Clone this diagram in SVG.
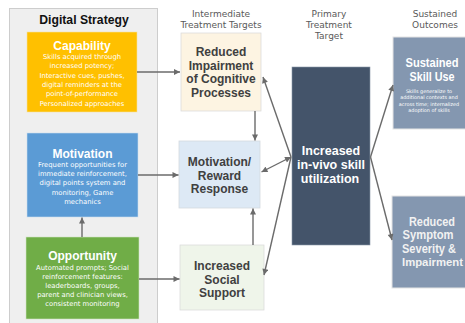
<svg xmlns="http://www.w3.org/2000/svg" width="465" height="323" viewBox="0 0 465 323">
  <style>
    .hdr { font-family: "DejaVu Sans", Verdana, sans-serif; font-size: 9px; fill: #595959; text-anchor: middle; }
    .ttl { font-family: "Liberation Sans", Arial, sans-serif; font-weight: bold; text-anchor: middle; }
    .body { font-family: "DejaVu Sans", Verdana, sans-serif; font-size: 6.8px; fill: #ffffff; text-anchor: middle; }
    .mid { font-family: "Liberation Sans", Arial, sans-serif; font-weight: bold; font-size: 12px; fill: #404040; text-anchor: middle; }
    .wt { fill: #ffffff; }
    .small { font-family: "DejaVu Sans", Verdana, sans-serif; font-size: 4.9px; fill: #ffffff; text-anchor: middle; }
    .conn { stroke: #6b6b6b; stroke-width: 1.4; fill: none; }
  </style>
  <defs>
    <marker id="arrow" viewBox="0 0 10 10" refX="10" refY="5" markerUnits="userSpaceOnUse" markerWidth="7" markerHeight="6" orient="auto-start-reverse">
      <path d="M0,0 L10,5 L0,10 z" fill="#6b6b6b"/>
    </marker>
  </defs>

  <!-- strategy panel -->
  <g id="digital-strategy">
    <rect x="9.5" y="8.5" width="148" height="322" fill="#efefef" stroke="#cdcdcd" stroke-width="1"/>
    <text class="ttl" x="84" y="24" font-size="12.2" fill="#111111">Digital Strategy</text>
  </g>

  <!-- column headers -->
  <g id="headers">
    <text class="hdr" x="221" y="17">Intermediate</text>
    <text class="hdr" x="221" y="28">Treatment Targets</text>
    <text class="hdr" x="329" y="17">Primary</text>
    <text class="hdr" x="329" y="28">Treatment</text>
    <text class="hdr" x="329" y="39">Target</text>
    <text class="hdr" x="435" y="17">Sustained</text>
    <text class="hdr" x="435" y="28">Outcomes</text>
  </g>

  <g id="capability">
    <rect x="27" y="32" width="110" height="80" fill="#ffc000" stroke="#f3e0a0" stroke-width="0.6"/>
    <text class="ttl wt" x="82" y="50" font-size="12">Capability</text>
    <text class="body" x="82" y="59">Skills acquired through</text>
    <text class="body" x="82" y="68">increased potency;</text>
    <text class="body" x="82" y="77.5">Interactive cues, pushes,</text>
    <text class="body" x="82" y="87">digital reminders at the</text>
    <text class="body" x="82" y="96">point-of-performance</text>
    <text class="body" x="82" y="105.5">Personalized approaches</text>
  </g>

  <g id="motivation">
    <rect x="27" y="133" width="111" height="84" fill="#5b9bd5" stroke="#c9dcef" stroke-width="0.6"/>
    <text class="ttl wt" x="82.5" y="157.5" font-size="12">Motivation</text>
    <text class="body" x="82.5" y="167">Frequent opportunities for</text>
    <text class="body" x="82.5" y="176">immediate reinforcement,</text>
    <text class="body" x="82.5" y="185">digital points system and</text>
    <text class="body" x="82.5" y="194.5">monitoring, Game</text>
    <text class="body" x="82.5" y="203.5">mechanics</text>
  </g>

  <g id="opportunity">
    <rect x="26" y="237" width="113" height="82" fill="#70ad47" stroke="#cfe3c2" stroke-width="0.6"/>
    <text class="ttl wt" x="82.5" y="259.5" font-size="12">Opportunity</text>
    <text class="body" x="82.5" y="270">Automated prompts; Social</text>
    <text class="body" x="82.5" y="279">reinforcement features:</text>
    <text class="body" x="82.5" y="288">leaderboards, groups,</text>
    <text class="body" x="82.5" y="297">parent and clinician views,</text>
    <text class="body" x="82.5" y="306">consistent monitoring</text>
  </g>

  <g id="reduced-impairment">
    <rect x="181" y="33" width="80" height="78" fill="#fdf4e2" stroke="#dcdcdc" stroke-width="0.8"/>
    <text class="mid" x="221" y="56">Reduced</text>
    <text class="mid" x="221" y="69.5">Impairment</text>
    <text class="mid" x="221" y="83">of Cognitive</text>
    <text class="mid" x="221" y="96.5">Processes</text>
  </g>

  <g id="motivation-reward">
    <rect x="179" y="141" width="81" height="67" fill="#dde9f5" stroke="#d4d9df" stroke-width="0.8"/>
    <text class="mid" x="219.5" y="166">Motivation/</text>
    <text class="mid" x="219.5" y="179.5">Reward</text>
    <text class="mid" x="219.5" y="193">Response</text>
  </g>

  <g id="social-support">
    <rect x="180" y="245" width="84" height="65" fill="#eff5ea" stroke="#dcdcdc" stroke-width="0.8"/>
    <text class="mid" x="222" y="269.5">Increased</text>
    <text class="mid" x="222" y="283.5">Social</text>
    <text class="mid" x="222" y="297">Support</text>
  </g>

  <g id="skill-utilization">
    <rect x="292" y="67" width="78" height="178" fill="#44546a" stroke="#8a97a8" stroke-width="0.6"/>
    <text class="ttl wt" x="331" y="155" font-size="12.5">Increased</text>
    <text class="ttl wt" x="331" y="169" font-size="12.5">in-vivo skill</text>
    <text class="ttl wt" x="330" y="183" font-size="12.5">utilization</text>
  </g>

  <g id="sustained-skill-use">
    <rect x="393" y="37" width="74" height="92" fill="#8497b0" stroke="#e4e4e4" stroke-width="1"/>
    <text class="ttl wt" x="432" y="67" font-size="12" textLength="53" lengthAdjust="spacingAndGlyphs">Sustained</text>
    <text class="ttl wt" x="432" y="80.5" font-size="12" textLength="45" lengthAdjust="spacingAndGlyphs">Skill Use</text>
    <text class="small" x="429" y="92.5">Skills generalize to</text>
    <text class="small" x="429" y="99">additional contexts and</text>
    <text class="small" x="429" y="105.5">across time; internalized</text>
    <text class="small" x="429" y="112">adoption of skills</text>
  </g>

  <g id="reduced-symptom">
    <rect x="392" y="196" width="75" height="92" fill="#8497b0" stroke="#e4e4e4" stroke-width="1"/>
    <text class="ttl" x="432" y="226" font-size="12" fill="#f2f2f2" textLength="46" lengthAdjust="spacingAndGlyphs">Reduced</text>
    <text class="ttl" x="428" y="239" font-size="12" fill="#f2f2f2" textLength="51" lengthAdjust="spacingAndGlyphs">Symptom</text>
    <text class="ttl" x="429" y="252.5" font-size="12" fill="#f2f2f2" textLength="54" lengthAdjust="spacingAndGlyphs">Severity &amp;</text>
    <text class="ttl" x="432.5" y="266" font-size="11.5" fill="#f2f2f2" textLength="61" lengthAdjust="spacingAndGlyphs">Impairment</text>
  </g>

  <!-- connectors -->
  <g id="connectors">
    <line class="conn" x1="137" y1="72" x2="180" y2="72" marker-end="url(#arrow)"/>
    <line class="conn" x1="138" y1="175" x2="178.5" y2="175" marker-end="url(#arrow)"/>
    <line class="conn" x1="139" y1="279" x2="179.5" y2="279" marker-end="url(#arrow)"/>
    <line class="conn" x1="82" y1="237" x2="82" y2="217.5" marker-end="url(#arrow)"/>
    <line class="conn" x1="255" y1="111" x2="255" y2="140.5" marker-end="url(#arrow)"/>
    <line class="conn" x1="253" y1="245" x2="253" y2="208.5" marker-end="url(#arrow)"/>
    <line class="conn" x1="291" y1="157" x2="263" y2="77" marker-end="url(#arrow)"/>
    <line class="conn" x1="291" y1="157" x2="261.5" y2="172" marker-start="url(#arrow)" marker-end="url(#arrow)"/>
    <line class="conn" x1="291" y1="157" x2="264" y2="275" marker-end="url(#arrow)"/>
    <line class="conn" x1="370.5" y1="157" x2="393" y2="85" marker-end="url(#arrow)"/>
    <line class="conn" x1="370.5" y1="157" x2="392" y2="240" marker-end="url(#arrow)"/>
  </g>
</svg>
